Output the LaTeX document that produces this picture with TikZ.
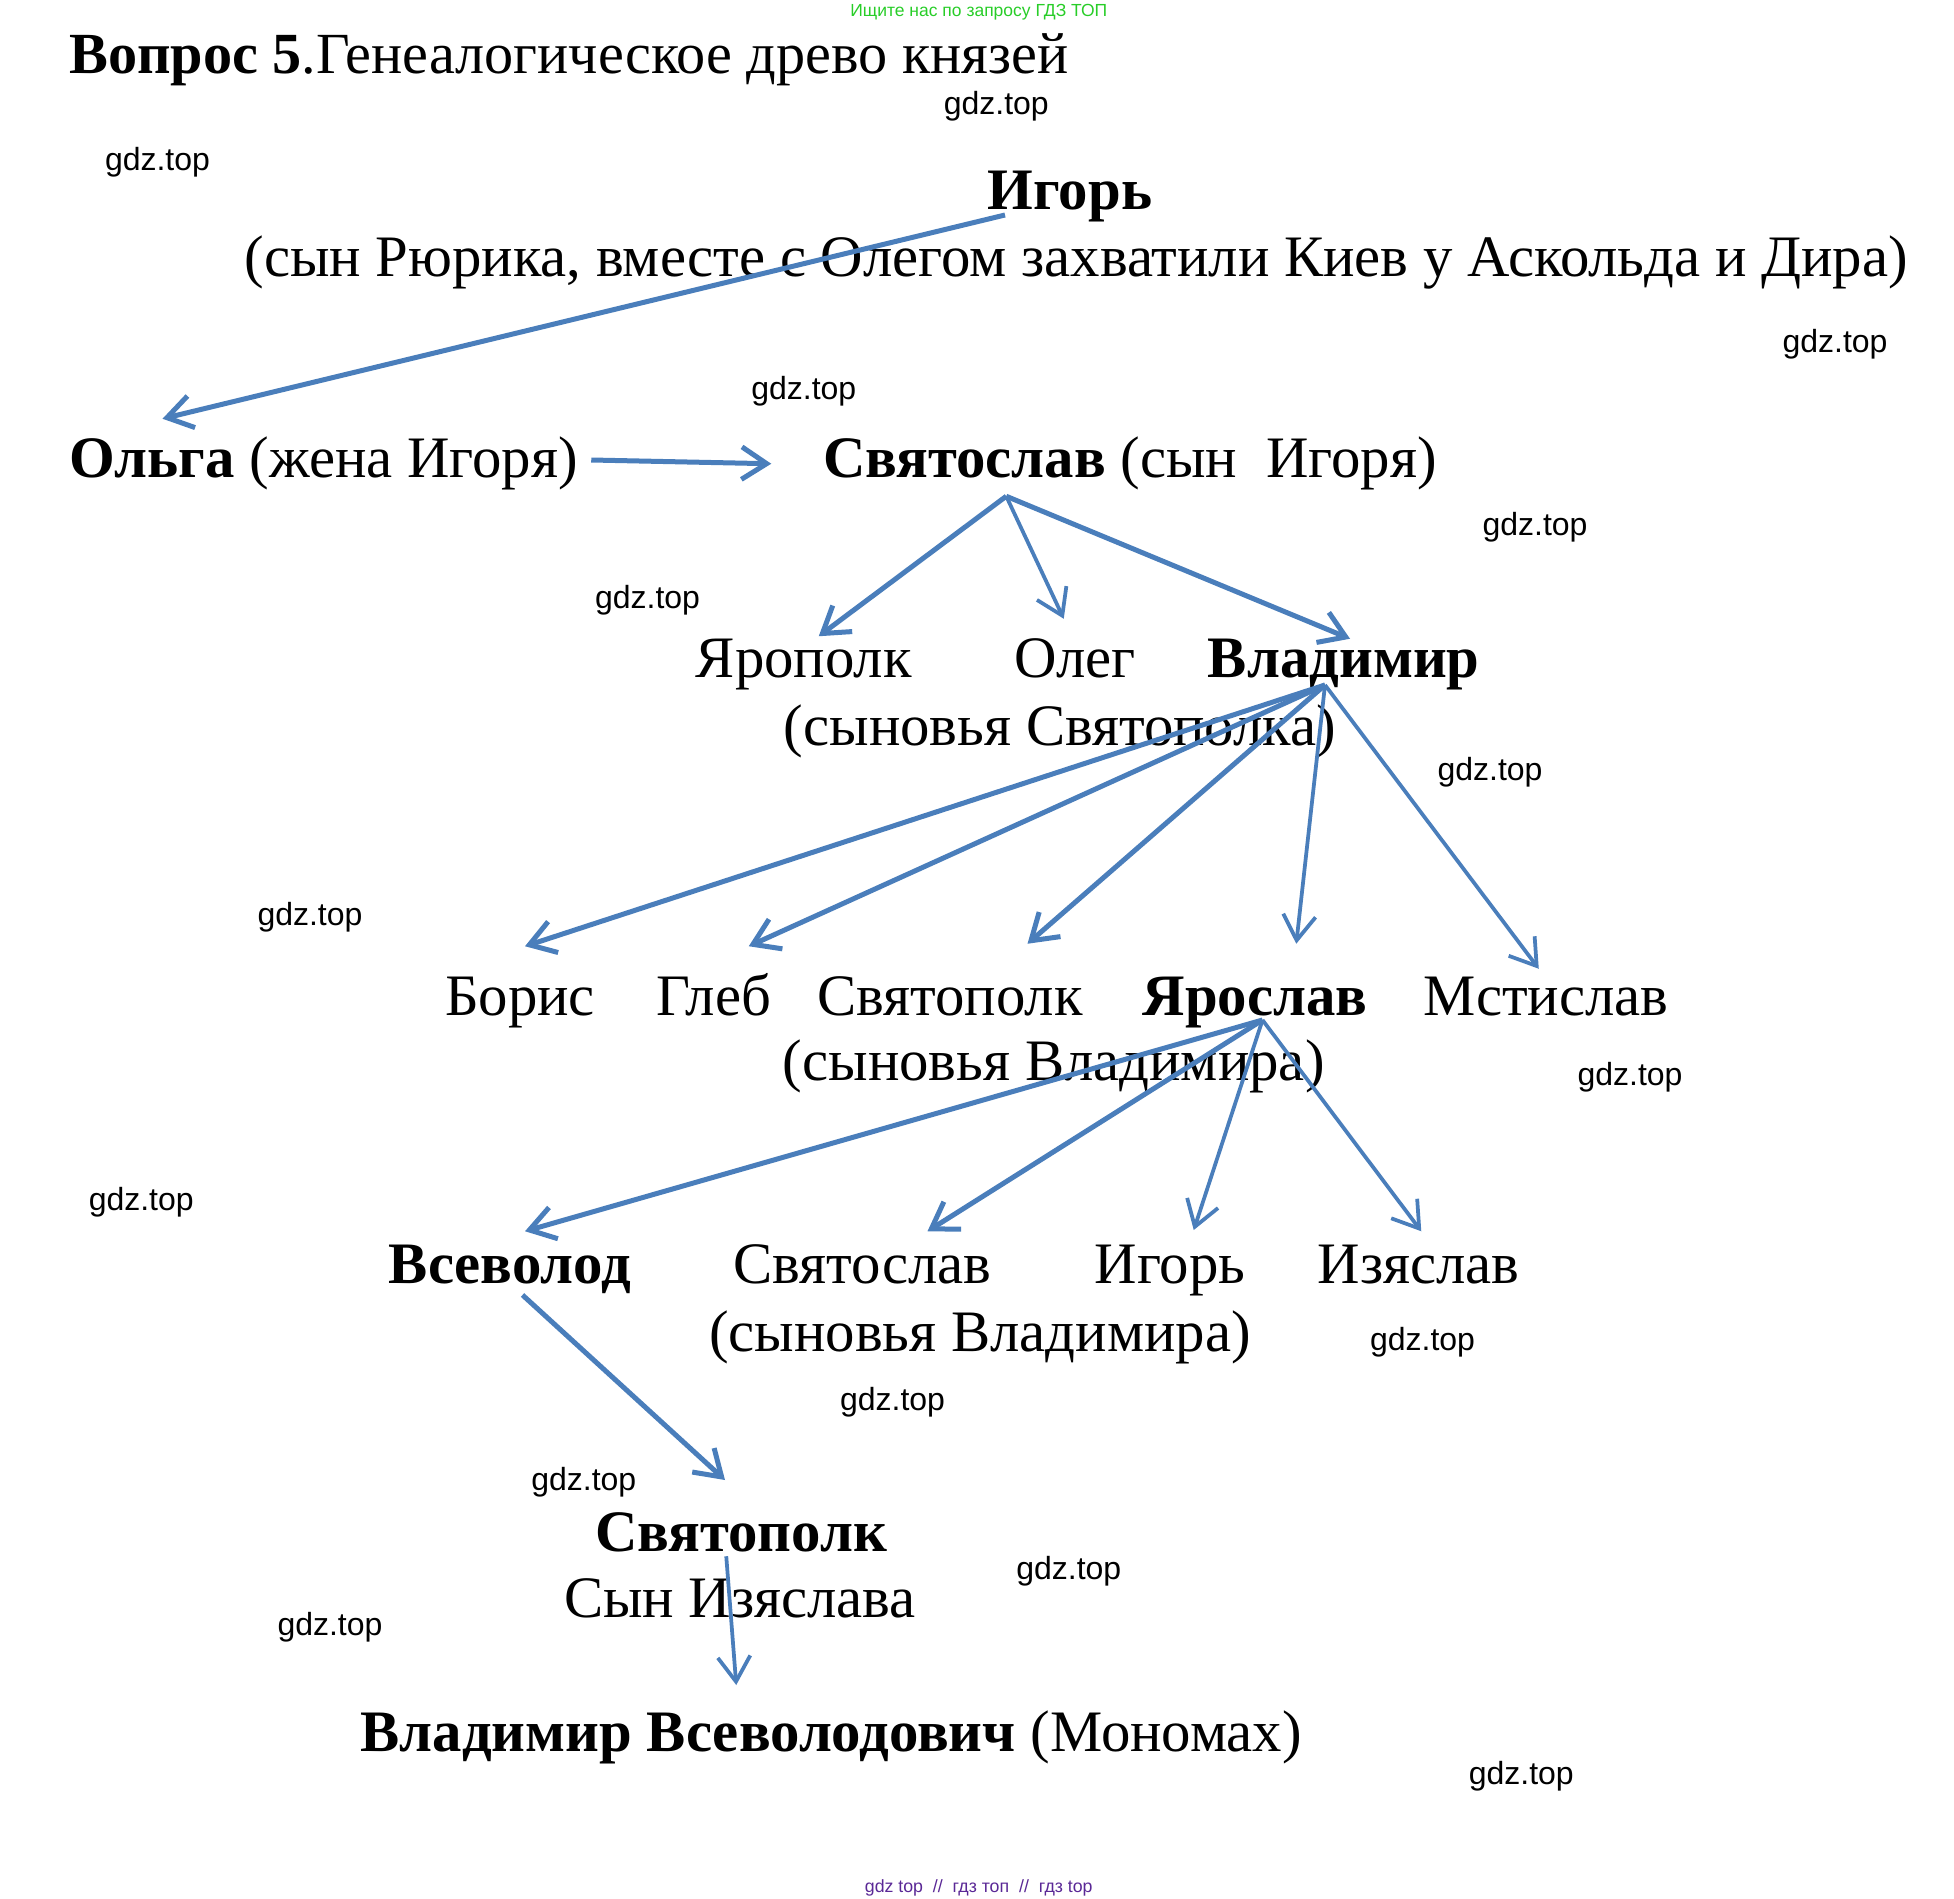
\documentclass[tikz,border=0pt]{standalone}
\usepackage{fontspec}
\setmainfont{Liberation Serif}
\newfontfamily\wmfont{Liberation Sans}
\usetikzlibrary{arrows.meta}
\definecolor{arrblue}{RGB}{74,126,187}
\definecolor{wmgreen}{RGB}{40,205,40}
\definecolor{wmpurple}{RGB}{90,40,150}

\begin{document}
\begin{tikzpicture}[x=0.5pt,y=-0.5pt,
    txt/.style={anchor=base,inner sep=0pt,font=\fontsize{23.5}{27}\selectfont},
    wm/.style={inner sep=0pt,font=\wmfont\fontsize{12.8}{14}\selectfont},
    arr/.style={draw=arrblue,line width=2pt,-{Straight Barb[length=10pt,width=13pt]}},
    thinarr/.style={arr,line width=1.5pt}]
    \useasboundingbox (0,0) rectangle (1563.2,1519.2);
    % watermarks
    \node[inner sep=0pt,text=wmgreen,font=\wmfont\fontsize{7}{9}\selectfont] (wmtop) at (783,10) {Ищите нас по запросу ГДЗ ТОП};
    \node[inner sep=0pt,text=wmpurple,font=\wmfont\fontsize{7.1}{9}\selectfont] (wmbot) at (783,1510) {gdz top~~//~~гдз топ~~//~~гдз top};
    \foreach \x/\y [count=\i] in {797/85,126/130,1468/275,643/313,1228/422,518/480,1192/618,248/734,1304/862,113/962,1138/1074,714/1122,467/1186,855/1257,264/1302,1217/1421}
        \node[wm] (wm\i) at (\x,\y) {gdz.top};
    % title
    \node[txt,anchor=base west,font=\fontsize{23.3}{27}\selectfont] (title) at (55,59) {\textbf{Вопрос 5}.Генеалогическое древо князей};
    % names
    \node[txt] (igor) at (856,168) {\textbf{Игорь}};
    \node[txt] (igornote) at (861,221) {(сын Рюрика, вместе с Олегом захватили Киев у Аскольда и Дира)};
    \node[txt,anchor=base west] (olga) at (55,382) {\textbf{Ольга} (жена Игоря)};
    \node[txt] (svyatoslav) at (904,382) {\textbf{Святослав} (сын~~Игоря)};
    \node[txt] (yaropolk) at (643,542) {Ярополк};
    \node[txt] (oleg) at (860,542) {Олег};
    \node[txt] (vladimir) at (1075,542) {\textbf{Владимир}};
    \node[txt] (svnote) at (848,596) {(сыновья Святополка)};
    \node[txt] (boris) at (416,812) {Борис};
    \node[txt] (gleb) at (571,812) {Глеб};
    \node[txt] (svyatopolk) at (760,812) {Святополк};
    \node[txt] (yaroslav) at (1004,812) {\textbf{Ярослав}};
    \node[txt] (mstislav) at (1237,812) {Мстислав};
    \node[txt] (vlnote) at (843,864) {(сыновья Владимира)};
    \node[txt] (vsevolod) at (408,1027) {\textbf{Всеволод}};
    \node[txt] (svyatoslavb) at (690,1027) {Святослав};
    \node[txt] (igorb) at (936,1027) {Игорь};
    \node[txt] (izyaslav) at (1135,1027) {Изяслав};
    \node[txt] (vlnoteb) at (784,1081) {(сыновья Владимира)};
    \node[txt] (svyatopolkb) at (593,1241) {\textbf{Святополк}};
    \node[txt] (synnote) at (592,1294) {Сын Изяслава};
    \node[txt] (monomakh) at (665,1401) {\textbf{Владимир Всеволодович} (Мономах)};
    % arrow ends
    \coordinate (igor-o) at (804,172);
    \coordinate (olga-i) at (130,335);
    \coordinate (olga-o) at (473,368);
    \coordinate (svyatoslav-i) at (617,371);
    \coordinate (svyatoslav-o) at (805,397);
    \coordinate (yaropolk-i) at (655,509);
    \coordinate (oleg-i) at (851,495);
    \coordinate (vladimir-i) at (1080,511);
    \coordinate (vladimir-o) at (1060,548);
    \coordinate (boris-i) at (420,757);
    \coordinate (gleb-i) at (599,757);
    \coordinate (svyatopolk-i) at (822,755);
    \coordinate (yaroslav-i) at (1037,755);
    \coordinate (mstislav-i) at (1231,775);
    \coordinate (yaroslav-o) at (1010,816);
    \coordinate (vsevolod-i) at (420,985);
    \coordinate (svyatoslavb-i) at (742,985);
    \coordinate (igorb-i) at (955,984);
    \coordinate (izyaslav-i) at (1137,985);
    \coordinate (vsevolod-o) at (418,1036);
    \coordinate (svyatopolkb-i) at (580,1184);
    \coordinate (svyatopolkb-o) at (581,1245);
    \coordinate (monomakh-i) at (589,1348);
    % arrows
    \draw[arr] (igor-o) -- (olga-i);
    \draw[arr] (olga-o) -- (svyatoslav-i);
    \draw[arr] (svyatoslav-o) -- (yaropolk-i);
    \draw[thinarr] (svyatoslav-o) -- (oleg-i);
    \draw[arr] (svyatoslav-o) -- (vladimir-i);
    \draw[arr] (vladimir-o) -- (boris-i);
    \draw[arr] (vladimir-o) -- (gleb-i);
    \draw[arr] (vladimir-o) -- (svyatopolk-i);
    \draw[thinarr] (vladimir-o) -- (yaroslav-i);
    \draw[thinarr] (vladimir-o) -- (mstislav-i);
    \draw[arr] (yaroslav-o) -- (vsevolod-i);
    \draw[arr] (yaroslav-o) -- (svyatoslavb-i);
    \draw[thinarr] (yaroslav-o) -- (igorb-i);
    \draw[thinarr] (yaroslav-o) -- (izyaslav-i);
    \draw[arr] (vsevolod-o) -- (svyatopolkb-i);
    \draw[thinarr] (svyatopolkb-o) -- (monomakh-i);
\end{tikzpicture}
\end{document}
